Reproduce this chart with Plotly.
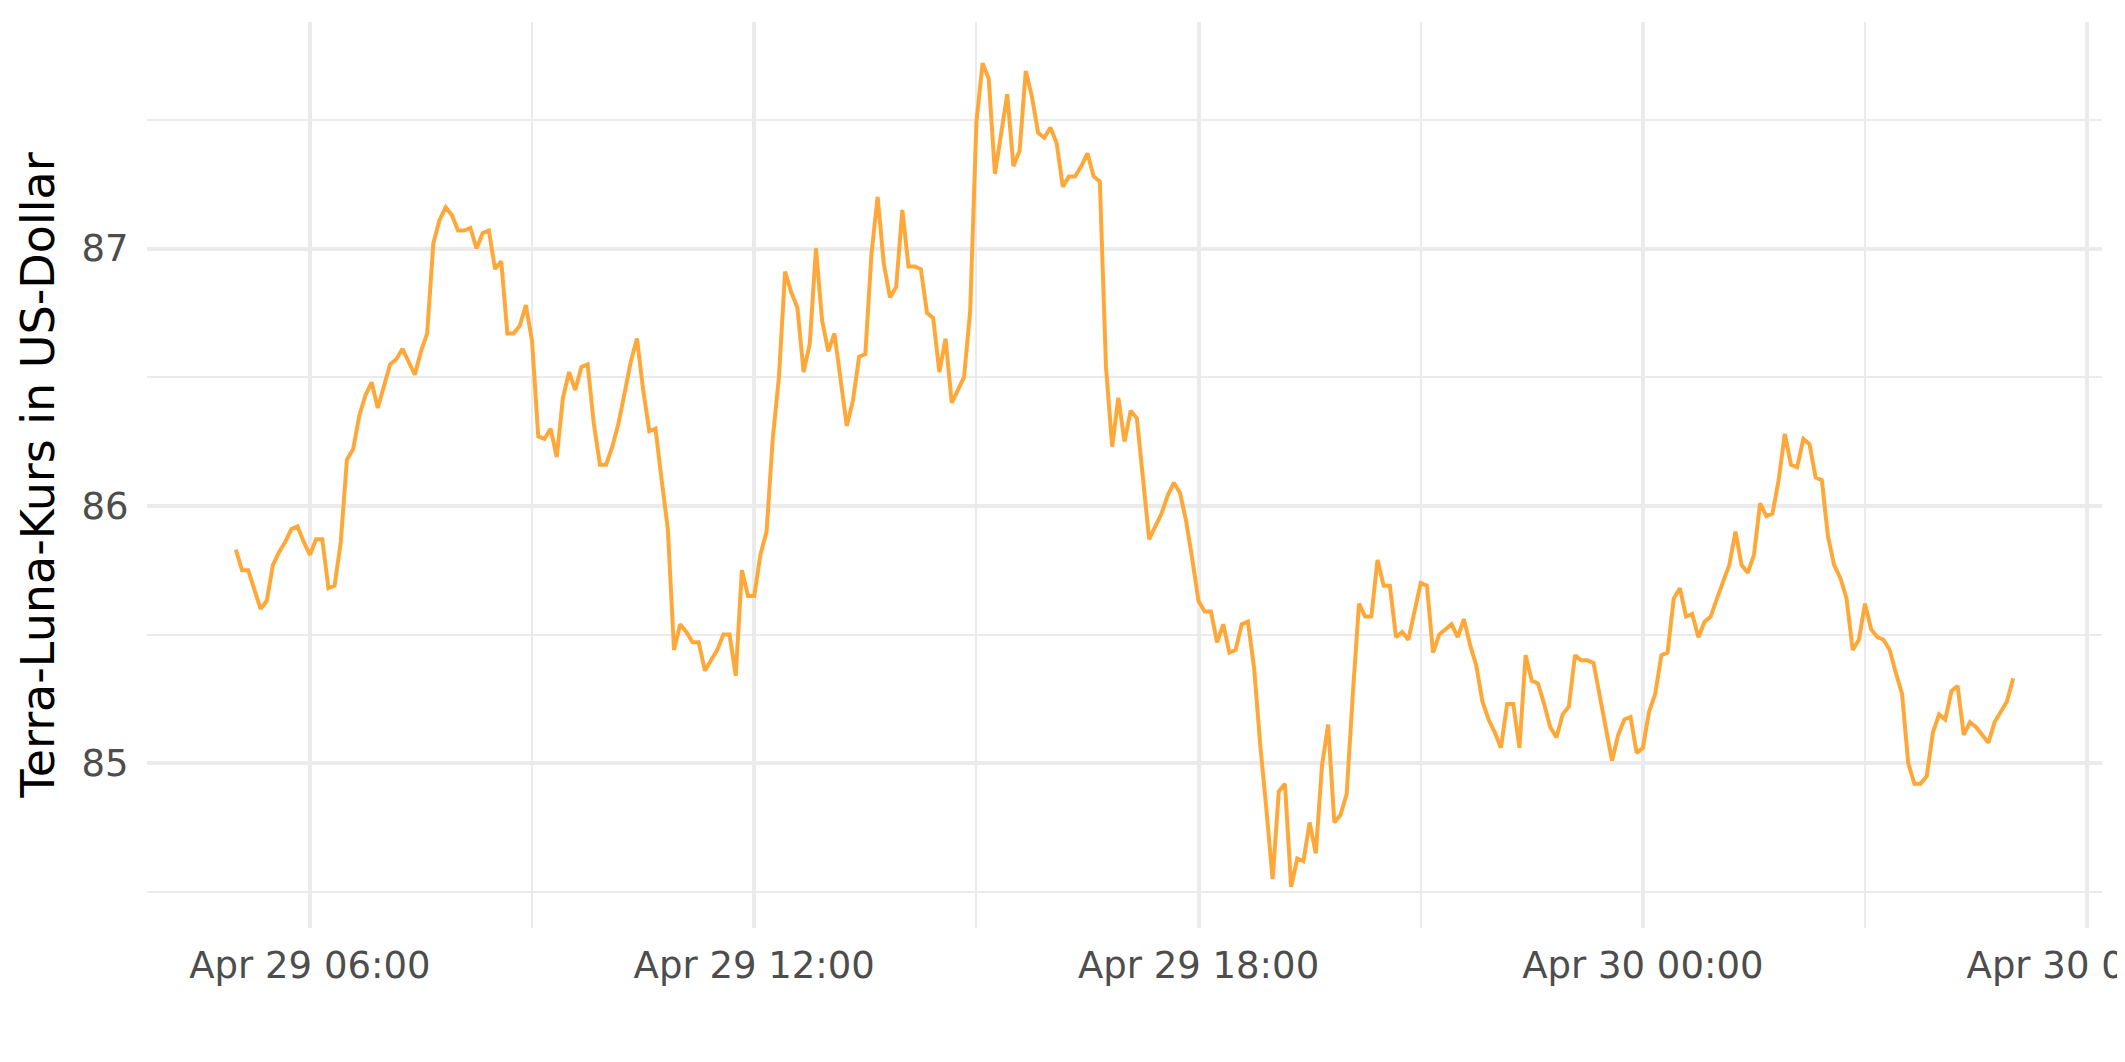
import pandas as pd
import plotly.graph_objects as go

# ---- data ----
start_time = "2022-04-29 05:00"
interval_minutes = 5

price_usd = [
    85.83, 85.75, 85.75, 85.67, 85.60, 85.63, 85.77, 85.82, 85.86, 85.91,
    85.92, 85.86, 85.81, 85.87, 85.87, 85.68, 85.69, 85.86, 86.18, 86.22,
    86.35, 86.43, 86.48, 86.38, 86.47, 86.55, 86.57, 86.61, 86.56, 86.51,
    86.60, 86.67, 87.02, 87.11, 87.16, 87.13, 87.07, 87.07, 87.08, 87.00,
    87.06, 87.07, 86.92, 86.95, 86.67, 86.67, 86.70, 86.78, 86.64, 86.27,
    86.26, 86.30, 86.19, 86.42, 86.52, 86.45, 86.54, 86.55, 86.32, 86.16,
    86.16, 86.23, 86.32, 86.44, 86.56, 86.65, 86.45, 86.29, 86.30, 86.10,
    85.91, 85.44, 85.54, 85.51, 85.47, 85.47, 85.36, 85.40, 85.44, 85.50,
    85.50, 85.34, 85.75, 85.65, 85.65, 85.81, 85.90, 86.26, 86.50, 86.91,
    86.83, 86.77, 86.52, 86.63, 87.00, 86.72, 86.60, 86.67, 86.50, 86.31,
    86.41, 86.58, 86.59, 86.98, 87.20, 86.94, 86.81, 86.85, 87.15, 86.93,
    86.93, 86.92, 86.75, 86.73, 86.52, 86.65, 86.40, 86.45, 86.50, 86.76,
    87.49, 87.72, 87.66, 87.29, 87.45, 87.60, 87.32, 87.38, 87.69, 87.59,
    87.45, 87.43, 87.47, 87.41, 87.24, 87.28, 87.28, 87.32, 87.37, 87.28,
    87.26, 86.54, 86.23, 86.42, 86.25, 86.37, 86.34, 86.10, 85.87, 85.92,
    85.97, 86.04, 86.09, 86.05, 85.94, 85.79, 85.63, 85.59, 85.59, 85.47,
    85.54, 85.43, 85.44, 85.54, 85.55, 85.37, 85.07, 84.82, 84.55, 84.89,
    84.92, 84.52, 84.63, 84.62, 84.77, 84.65, 84.99, 85.15, 84.77, 84.80,
    84.88, 85.27, 85.62, 85.57, 85.57, 85.79, 85.69, 85.69, 85.49, 85.51,
    85.48, 85.59, 85.70, 85.69, 85.43, 85.50, 85.52, 85.54, 85.49, 85.56,
    85.46, 85.38, 85.24, 85.17, 85.12, 85.06, 85.23, 85.23, 85.06, 85.42,
    85.32, 85.31, 85.23, 85.14, 85.10, 85.19, 85.22, 85.42, 85.40, 85.40,
    85.39, 85.26, 85.12, 85.01, 85.11, 85.17, 85.18, 85.04, 85.06, 85.20,
    85.27, 85.42, 85.43, 85.64, 85.68, 85.57, 85.58, 85.49, 85.55, 85.57,
    85.64, 85.70, 85.77, 85.90, 85.77, 85.74, 85.81, 86.01, 85.96, 85.97,
    86.10, 86.28, 86.16, 86.15, 86.26, 86.24, 86.11, 86.10, 85.88, 85.77,
    85.72, 85.64, 85.44, 85.48, 85.62, 85.52, 85.49, 85.48, 85.44, 85.35,
    85.27, 85.00, 84.92, 84.92, 84.95, 85.12, 85.19, 85.17, 85.28, 85.30,
    85.11, 85.16, 85.14, 85.11, 85.08, 85.16, 85.20, 85.24, 85.33,
]

x_tick_vals = ["2022-04-29 06:00", "2022-04-29 12:00", "2022-04-29 18:00",
               "2022-04-30 00:00", "2022-04-30 06:00"]
x_tick_text = ["Apr 29 06:00", "Apr 29 12:00", "Apr 29 18:00",
               "Apr 30 00:00", "Apr 30 06:00"]
x_minor_vals = ["2022-04-29 09:00", "2022-04-29 15:00", "2022-04-29 21:00",
                "2022-04-30 03:00"]
y_tick_vals = [85, 86, 87]
y_tick_text = ["85", "86", "87"]
y_minor_vals = [84.5, 85.5, 86.5, 87.5]

y_title = "Terra-Luna-Kurs in US-Dollar"

# ---- figure ----
times = pd.date_range(start=start_time, periods=len(price_usd),
                      freq=f"{interval_minutes}min")

LINE_COLOR = "#FFA83A"
GRID_COLOR = "#EBEBEB"
FONT = "DejaVu Sans"

fig = go.Figure()
fig.add_trace(go.Scatter(
    x=times, y=price_usd, mode="lines",
    line=dict(color=LINE_COLOR, width=4),
    hoverinfo="x+y", showlegend=False,
))

# ggplot-like 5% expansion
t0, t1 = times[0], times[-1]
span = t1 - t0
x_range = [t0 - span * 0.05, t1 + span * 0.05]
ymin, ymax = min(price_usd), max(price_usd)
yspan = ymax - ymin
y_range = [ymin - 0.05 * yspan, ymax + 0.05 * yspan]

# the page body adds an 8px offset; size the figure to fill the window
fig.update_layout(
    width=2117, height=1054,
    margin=dict(l=139, r=23, t=14, b=134),
    paper_bgcolor="white", plot_bgcolor="white",
    font=dict(family=FONT, color="#4D4D4D"),
    xaxis=dict(
        range=x_range,
        tickmode="array", tickvals=x_tick_vals, ticktext=x_tick_text,
        tickfont=dict(family=FONT, size=37, color="#4D4D4D"),
        ticks="outside", ticklen=5, tickcolor="rgba(0,0,0,0)",
        ticklabeloverflow="allow",
        showgrid=True, gridcolor=GRID_COLOR, gridwidth=3.6,
        minor=dict(tickmode="array", tickvals=x_minor_vals, showgrid=True,
                   gridcolor=GRID_COLOR, gridwidth=1.9, ticks=""),
        showline=False, zeroline=False, automargin=False,
    ),
    yaxis=dict(
        range=y_range,
        tickmode="array", tickvals=y_tick_vals, ticktext=y_tick_text,
        tickfont=dict(family=FONT, size=37, color="#4D4D4D"),
        ticks="outside", ticklen=10, tickcolor="rgba(0,0,0,0)",
        showgrid=True, gridcolor=GRID_COLOR, gridwidth=3.6,
        minor=dict(tickmode="array", tickvals=y_minor_vals, showgrid=True,
                   gridcolor=GRID_COLOR, gridwidth=1.9, ticks=""),
        showline=False, zeroline=False, automargin=False,
        title=dict(text=y_title, font=dict(family=FONT, size=46, color="black"),
                   standoff=12),
    ),
)

fig.write_html("out.html")
